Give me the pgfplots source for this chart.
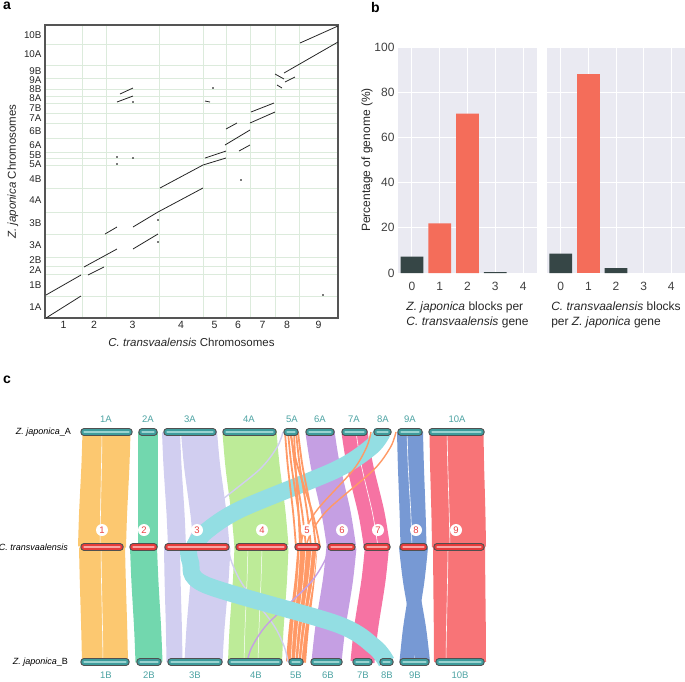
\documentclass[border=0pt]{standalone}
\usepackage{fontspec}
\setmainfont{Liberation Sans}
\usepackage{pgfplots}
\pgfplotsset{compat=1.18}
\definecolor{gridg}{HTML}{DCEBDC}
\definecolor{axgray}{HTML}{555555}
\definecolor{bgc}{HTML}{EAEAF2}
\definecolor{salmon}{HTML}{F46D5A}
\definecolor{darkbar}{HTML}{364646}
\definecolor{cOr}{HTML}{FCC870}
\definecolor{cGr}{HTML}{72D7AE}
\definecolor{cLav}{HTML}{D1CEF0}
\definecolor{cLg}{HTML}{BDEB98}
\definecolor{cOs}{HTML}{FF9966}
\definecolor{cPu}{HTML}{C59FE3}
\definecolor{cPk}{HTML}{F673A3}
\definecolor{cCy}{HTML}{93DEE3}
\definecolor{cBl}{HTML}{7799D4}
\definecolor{cRd}{HTML}{F87477}
\definecolor{cTeal}{HTML}{3E9C9C}
\definecolor{cTealL}{HTML}{9AD3D0}
\definecolor{cRedB}{HTML}{E63B3B}
\definecolor{cRedL}{HTML}{F8A5A5}
\definecolor{cLab}{HTML}{4DA3A3}
\definecolor{cNum}{HTML}{EA4545}
\definecolor{cOut}{HTML}{505050}
% bands: top row (y=432) to middle row (y=547); middle row to bottom row (y=662)
\newcommand\bandT[5]{\addplot[#5, smooth] coordinates {(#1,432) (#2,466) (#3,513) (#4,547)};}
\newcommand\bandB[5]{\addplot[#5, smooth] coordinates {(#1,547) (#2,581) (#3,628) (#4,662)};}
\newcommand\curveT[7]{\addplot[#7, smooth] coordinates {(#1,432) (#2,447) (#3,470) (#4,509) (#5,532) (#6,547)};}
\newcommand\curveB[7]{\addplot[#7, smooth] coordinates {(#1,547) (#2,562) (#3,585) (#4,624) (#5,647) (#6,662)};}
\newcommand\chrbar[5]{%
 \addplot[line width=7.5pt, color=cOut, line cap=round] coordinates {(#1,#3) (#2,#3)};
 \addplot[line width=5.3pt, color=#4, line cap=round] coordinates {(#1,#3) (#2,#3)};
 \addplot[line width=1.1pt, color=#5, line cap=round] coordinates {(#1,#3) (#2,#3)};}
\begin{document}
\begin{tikzpicture}
\useasboundingbox (0,0) rectangle (685pt,-681pt);
% ---------------- panel a ----------------
\begin{axis}[at={(45pt,-25pt)}, anchor=north west, scale only axis,
 width=293pt, height=293pt,
 xmin=45, xmax=338, ymin=25, ymax=318, y dir=reverse,
 axis line style={draw=axgray, line width=1.3pt},
 xtick={82,106,159,203,226,250,275,299}, xticklabels={},
 ytick={44,65,78,89,96,103,113,123,138,152,158,165,188,212,234,257,266,274,296}, yticklabels={},
 grid=major, major grid style={draw=gridg, line width=0.6pt},
 major tick length=0pt,
 extra x ticks={63.5,94,132.5,181,214.5,238,262.5,287,318.5},
 extra x tick labels={1,2,3,4,5,6,7,8,9},
 extra x tick style={grid=none, major tick length=0pt},
 extra y ticks={35,54,71,80.5,89.5,98.5,108,118,131,145,155,164.5,179,200,223,245.5,260.5,270.5,285,307},
 extra y tick labels={10B,10A,9B,9A,8B,8A,7B,7A,6B,6A,5B,5A,4B,4A,3B,3A,2B,2A,1B,1A},
 extra y tick style={grid=none, major tick length=0pt},
 tick label style={font=\fontsize{9.8}{9.8}\selectfont, text=black!85},
 xticklabel style={font=\fontsize{10.5}{10.5}\selectfont},
 xlabel={\textit{C. transvaalensis} Chromosomes},
 ylabel={\textit{Z. japonica} Chromosomes},
 label style={font=\fontsize{11.5}{11.5}\selectfont, text=black!85},
 xlabel style={yshift=-2pt}, ylabel style={yshift=-1pt},
 clip=false]
\addplot[black!85, line width=0.8pt, unbounded coords=jump] table[row sep=\\] {
x y\\ 46 318\\ 81 296\\ nan nan\\
46 295\\ 81 275\\ nan nan\\
84 267\\ 117 249\\ nan nan\\
88 275\\ 104 267\\ nan nan\\
105 234\\ 117 227\\ nan nan\\
133 249\\ 158 234\\ nan nan\\
133 227\\ 158 212\\ nan nan\\
117 102\\ 133 96\\ nan nan\\
120 94\\ 133 88\\ nan nan\\
158 212\\ 203 188\\ nan nan\\
160 188\\ 203 165\\ nan nan\\
203 165\\ 226 158\\ nan nan\\
205 158\\ 226 151\\ nan nan\\
205 101\\ 210 102\\ nan nan\\
225 145\\ 250 130\\ nan nan\\
226 129\\ 237 123\\ nan nan\\
239 151\\ 250 145\\ nan nan\\
250 123\\ 275 112\\ nan nan\\
251 112\\ 274 103\\ nan nan\\
275 74\\ 284 79\\ nan nan\\
284 73\\ 338 42\\ nan nan\\
277 85\\ 282 88\\ nan nan\\
285 82\\ 295 77\\ nan nan\\
300 43\\ 338 26\\
};
\addplot[only marks, mark=*, mark size=0.6pt, black!85] coordinates {
(117,157) (133,158) (117,164) (133,102) (158,220) (158,242) (213,88) (241,180) (323,295)};
\end{axis}
% ---------------- panel b left ----------------
\begin{axis}[at={(398pt,-47pt)}, anchor=north west, scale only axis,
 width=139pt, height=226pt, xmin=-0.5, xmax=4.5, ymin=0, ymax=100,
 axis background/.style={fill=bgc}, axis line style={draw=none},
 grid=major, major grid style={draw=white, line width=1pt},
 xtick={0,1,2,3,4}, ytick={0,20,40,60,80,100}, major tick length=0pt,
 /pgf/number format/assume math mode=true,
 tick label style={font=\fontsize{12}{12}\selectfont, text=black!75},
 xticklabel style={yshift=-6pt},
 ylabel={Percentage of genome (\%)},
 xlabel={\textit{Z. japonica} blocks per\\\textit{C. transvaalensis} gene},
 label style={font=\fontsize{12}{14.5}\selectfont, text=black!85},
 xlabel style={align=left, yshift=-4pt}, ylabel style={yshift=-5pt}]
\addplot[ybar, bar width=0.82, bar shift=0pt, fill=darkbar, draw=none] coordinates {(0,7.3) (3,0.4)};
\addplot[ybar, bar width=0.82, bar shift=0pt, fill=salmon, draw=none] coordinates {(1,22) (2,70.5)};
\end{axis}
% ---------------- panel b right ----------------
\begin{axis}[at={(547pt,-47pt)}, anchor=north west, scale only axis,
 width=138pt, height=226pt, xmin=-0.5, xmax=4.5, ymin=0, ymax=100,
 axis background/.style={fill=bgc}, axis line style={draw=none},
 grid=major, major grid style={draw=white, line width=1pt},
 xtick={0,1,2,3,4}, ytick={0,20,40,60,80,100}, yticklabels={}, major tick length=0pt,
 /pgf/number format/assume math mode=true,
 tick label style={font=\fontsize{12}{12}\selectfont, text=black!75},
 xticklabel style={yshift=-6pt},
 xlabel={\textit{C. transvaalensis} blocks\\per \textit{Z. japonica} gene},
 label style={font=\fontsize{12}{14.5}\selectfont, text=black!85},
 xlabel style={align=left, yshift=-4pt}]
\addplot[ybar, bar width=0.82, bar shift=0pt, fill=darkbar, draw=none] coordinates {(0,8.6) (2,2.2)};
\addplot[ybar, bar width=0.82, bar shift=0pt, fill=salmon, draw=none] coordinates {(1,88.2)};
\end{axis}
% ---------------- panel c ----------------
\begin{axis}[at={(0pt,-370pt)}, anchor=north west, scale only axis,
 width=685pt, height=311pt, xmin=0, xmax=685, ymin=370, ymax=681, y dir=reverse,
 hide axis, clip=false]
% top half bands
\bandT{106.5}{105.4}{103.1}{102}{cOr, line width=48pt}
\bandT{148}{148}{148}{148}{cGr, line width=20pt}
\bandT{171}{172.5}{175.5}{177}{cLav, line width=18pt}
\bandT{199}{202.1}{208.4}{211.5}{cLav, line width=36pt}
\bandT{249.5}{252.5}{258.5}{261.5}{cLg, line width=54pt}
\bandT{320}{325.4}{336.1}{341.5}{cPu, line width=29pt}
\bandT{354.5}{360.1}{371.4}{377}{cPk, line width=26pt}
\bandT{410}{410.9}{412.6}{413.5}{cBl, line width=26pt}
\bandT{456.5}{457.1}{458.4}{459}{cRd, line width=54pt}
\bandT{102}{101.5}{100.5}{100}{white, line width=0.6pt}
\bandT{356}{361.5}{372.5}{378}{white, line width=0.6pt}
\bandT{407}{408.2}{410.8}{412}{white, line width=0.6pt}
\bandT{447}{447.8}{449.2}{450}{white, line width=0.6pt}
\curveT{283}{277.2}{259}{211}{192.8}{187}{cLav, line width=1.4pt}
\curveT{382.5}{371.2}{335.4}{241.1}{205.3}{194}{cCy, line width=17pt}
\bandT{285}{287.8}{293.2}{296}{cOs, line width=1.8pt}
\bandT{288}{291.5}{298.5}{302}{cOs, line width=1.8pt}
\bandT{291}{294.8}{302.2}{306}{cOs, line width=1.8pt}
\bandT{294}{295.5}{298.5}{300}{cOs, line width=1.8pt}
\bandT{296}{299.8}{307.2}{311}{cOs, line width=1.8pt}
\bandT{298}{302.5}{311.5}{316}{cOs, line width=1.8pt}
\bandT{290}{297.5}{312.5}{320}{cOs, line width=1.8pt}
\curveT{396}{390.6}{373.5}{328.5}{311.4}{306}{cOs, line width=1.4pt}
\curveT{371}{366.7}{353.2}{317.8}{304.3}{300}{cOs, line width=1.4pt}
% bottom half bands
\bandB{102}{102.8}{104.2}{105}{cOr, line width=46pt}
\bandB{143.5}{144.9}{147.6}{149}{cGr, line width=27pt}
\bandB{172}{172.6}{173.9}{174.5}{cLav, line width=16pt}
\bandB{211.5}{209.5}{205.5}{203.5}{cLav, line width=38pt}
\bandB{261.5}{259.9}{256.6}{255}{cLg, line width=54pt}
\bandB{307.5}{304.6}{298.9}{296}{cOs, line width=20pt}
\bandB{341.5}{337.8}{330.3}{326.5}{cPu, line width=30pt}
\bandB{377}{373.4}{366.1}{362.5}{cPk, line width=24pt}
\bandB{406.5}{410.5}{418.5}{422.5}{cBl, line width=15pt}
\bandB{421}{417.4}{410.1}{406.5}{cBl, line width=14pt}
\bandB{459}{459.3}{459.8}{460}{cRd, line width=52pt}
\bandB{101}{101.5}{102.5}{103}{white, line width=0.6pt}
\bandB{300}{297.8}{293.2}{291}{white, line width=0.5pt}
\bandB{306}{303.2}{297.8}{295}{white, line width=0.5pt}
\bandB{312}{308.5}{301.5}{298}{white, line width=0.5pt}
\bandB{317}{313}{305}{301}{white, line width=0.5pt}
\bandB{248}{247}{245}{244}{white, line width=0.5pt}
\bandB{262}{261}{259}{258}{white, line width=0.5pt}
\bandB{448}{447.5}{446.5}{446}{white, line width=0.6pt}
\curveB{228}{231.6}{243}{273}{284.4}{288}{cLav, line width=1.4pt}
\curveB{329}{324.1}{308.5}{267.5}{251.9}{247}{cPu, line width=1.4pt}
\curveB{188.5}{190.4}{206}{337}{374.6}{386.5}{cCy, line width=17pt}
% chromosome bars
\chrbar{84}{129}{432}{cTeal}{cTealL}
\chrbar{142}{154}{432}{cTeal}{cTealL}
\chrbar{167}{213}{432}{cTeal}{cTealL}
\chrbar{226}{273}{432}{cTeal}{cTealL}
\chrbar{287}{295}{432}{cTeal}{cTealL}
\chrbar{309}{331}{432}{cTeal}{cTealL}
\chrbar{345}{364}{432}{cTeal}{cTealL}
\chrbar{377}{388}{432}{cTeal}{cTealL}
\chrbar{401}{419}{432}{cTeal}{cTealL}
\chrbar{432}{481}{432}{cTeal}{cTealL}
\chrbar{84}{120}{547}{cRedB}{cRedL}
\chrbar{133}{154}{547}{cRedB}{cRedL}
\chrbar{168}{226}{547}{cRedB}{cRedL}
\chrbar{239}{284}{547}{cRedB}{cRedL}
\chrbar{298}{317}{547}{cRedB}{cRedL}
\chrbar{331}{352}{547}{cRedB}{cRedL}
\chrbar{367}{387}{547}{cRedB}{cRedL}
\chrbar{403}{424}{547}{cRedB}{cRedL}
\chrbar{437}{481}{547}{cRedB}{cRedL}
\chrbar{84}{126}{662}{cTeal}{cTealL}
\chrbar{140}{158}{662}{cTeal}{cTealL}
\chrbar{171}{219}{662}{cTeal}{cTealL}
\chrbar{231}{279}{662}{cTeal}{cTealL}
\chrbar{292}{300}{662}{cTeal}{cTealL}
\chrbar{314}{339}{662}{cTeal}{cTealL}
\chrbar{356}{369}{662}{cTeal}{cTealL}
\chrbar{383}{390}{662}{cTeal}{cTealL}
\chrbar{403}{426}{662}{cTeal}{cTealL}
\chrbar{439}{481}{662}{cTeal}{cTealL}
% labels
\node[text=cLab, font=\fontsize{9.5}{9.5}\selectfont] at (axis cs:106,419) {1A};
\node[text=cLab, font=\fontsize{9.5}{9.5}\selectfont] at (axis cs:148,419) {2A};
\node[text=cLab, font=\fontsize{9.5}{9.5}\selectfont] at (axis cs:190,419) {3A};
\node[text=cLab, font=\fontsize{9.5}{9.5}\selectfont] at (axis cs:249,419) {4A};
\node[text=cLab, font=\fontsize{9.5}{9.5}\selectfont] at (axis cs:292,419) {5A};
\node[text=cLab, font=\fontsize{9.5}{9.5}\selectfont] at (axis cs:320,419) {6A};
\node[text=cLab, font=\fontsize{9.5}{9.5}\selectfont] at (axis cs:354,419) {7A};
\node[text=cLab, font=\fontsize{9.5}{9.5}\selectfont] at (axis cs:383,419) {8A};
\node[text=cLab, font=\fontsize{9.5}{9.5}\selectfont] at (axis cs:410,419) {9A};
\node[text=cLab, font=\fontsize{9.5}{9.5}\selectfont] at (axis cs:457,419) {10A};
\node[text=cLab, font=\fontsize{9.5}{9.5}\selectfont] at (axis cs:106,675) {1B};
\node[text=cLab, font=\fontsize{9.5}{9.5}\selectfont] at (axis cs:149,675) {2B};
\node[text=cLab, font=\fontsize{9.5}{9.5}\selectfont] at (axis cs:195,675) {3B};
\node[text=cLab, font=\fontsize{9.5}{9.5}\selectfont] at (axis cs:256,675) {4B};
\node[text=cLab, font=\fontsize{9.5}{9.5}\selectfont] at (axis cs:296,675) {5B};
\node[text=cLab, font=\fontsize{9.5}{9.5}\selectfont] at (axis cs:328,675) {6B};
\node[text=cLab, font=\fontsize{9.5}{9.5}\selectfont] at (axis cs:363,675) {7B};
\node[text=cLab, font=\fontsize{9.5}{9.5}\selectfont] at (axis cs:387,675) {8B};
\node[text=cLab, font=\fontsize{9.5}{9.5}\selectfont] at (axis cs:415,675) {9B};
\node[text=cLab, font=\fontsize{9.5}{9.5}\selectfont] at (axis cs:460,675) {10B};
\node[circle, fill=white, inner sep=0pt, minimum size=12pt, text=cNum, font=\fontsize{9.5}{9.5}\selectfont] at (axis cs:102,530) {1};
\node[circle, fill=white, inner sep=0pt, minimum size=12pt, text=cNum, font=\fontsize{9.5}{9.5}\selectfont] at (axis cs:144,530) {2};
\node[circle, fill=white, inner sep=0pt, minimum size=12pt, text=cNum, font=\fontsize{9.5}{9.5}\selectfont] at (axis cs:197,530) {3};
\node[circle, fill=white, inner sep=0pt, minimum size=12pt, text=cNum, font=\fontsize{9.5}{9.5}\selectfont] at (axis cs:262,530) {4};
\node[circle, fill=white, inner sep=0pt, minimum size=12pt, text=cNum, font=\fontsize{9.5}{9.5}\selectfont] at (axis cs:307,530) {5};
\node[circle, fill=white, inner sep=0pt, minimum size=12pt, text=cNum, font=\fontsize{9.5}{9.5}\selectfont] at (axis cs:342,530) {6};
\node[circle, fill=white, inner sep=0pt, minimum size=12pt, text=cNum, font=\fontsize{9.5}{9.5}\selectfont] at (axis cs:378,530) {7};
\node[circle, fill=white, inner sep=0pt, minimum size=12pt, text=cNum, font=\fontsize{9.5}{9.5}\selectfont] at (axis cs:416,530) {8};
\node[circle, fill=white, inner sep=0pt, minimum size=12pt, text=cNum, font=\fontsize{9.5}{9.5}\selectfont] at (axis cs:456,530) {9};
\node[anchor=east, inner sep=0pt, font=\fontsize{9}{9}\selectfont] at (axis cs:71,432) {\textit{Z. japonica}\_A};
\node[anchor=east, inner sep=0pt, font=\fontsize{9}{9}\selectfont] at (axis cs:68,547) {\textit{C. transvaalensis}};
\node[anchor=east, inner sep=0pt, font=\fontsize{9}{9}\selectfont] at (axis cs:68,662) {\textit{Z. japonica}\_B};
\end{axis}
% panel letters
\node[anchor=north west, font=\bfseries\fontsize{14}{14}\selectfont, inner sep=0pt] at (3pt,-2pt) {a};
\node[anchor=north west, font=\bfseries\fontsize{14}{14}\selectfont, inner sep=0pt] at (371pt,-2pt) {b};
\node[anchor=north west, font=\bfseries\fontsize{14}{14}\selectfont, inner sep=0pt] at (3pt,-376pt) {c};
\end{tikzpicture}
\end{document}
